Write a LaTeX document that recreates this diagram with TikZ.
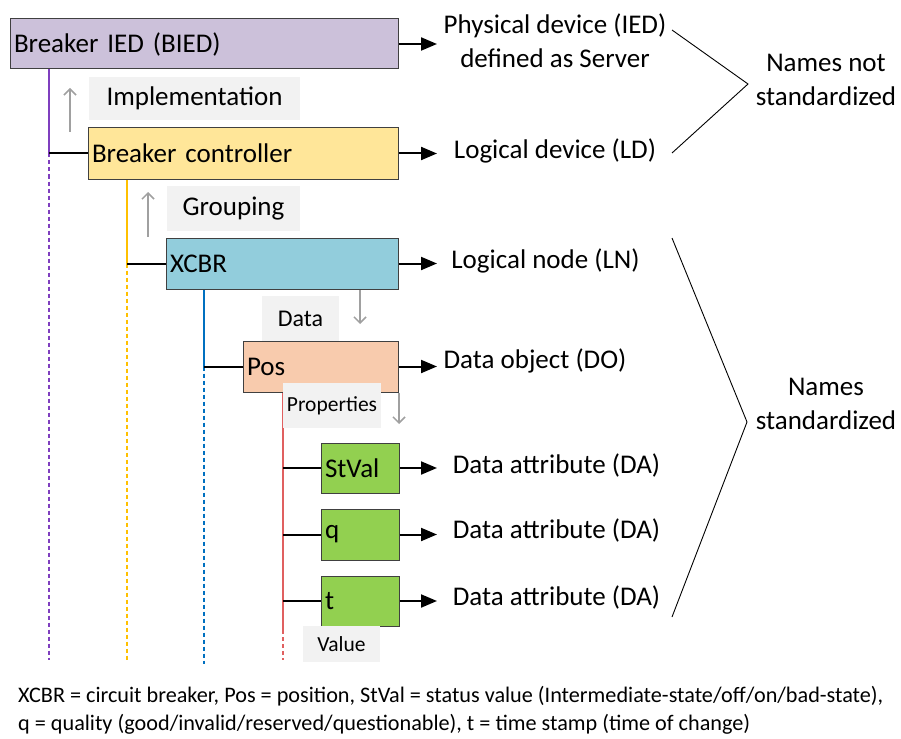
\documentclass[tikz,border=0pt]{standalone}
\usepackage{fontspec}
\setmainfont{Carlito}
\usetikzlibrary{arrows.meta}

\definecolor{biedfill}{HTML}{CCC1DA}
\definecolor{ctrlfill}{HTML}{FFE699}
\definecolor{xcbrfill}{HTML}{92CDDC}
\definecolor{posfill}{HTML}{F8CBAD}
\definecolor{dafill}{HTML}{92D050}
\definecolor{tagfill}{HTML}{F2F2F2}
\definecolor{tagarrow}{HTML}{A0A0A0}
\definecolor{lnpurple}{HTML}{7F3FBF}
\definecolor{lngold}{HTML}{FFC000}
\definecolor{lnblue}{HTML}{0070C0}
\definecolor{lnred}{HTML}{E06060}

\tikzset{
  bx/.style={draw=black!75, line width=1pt, inner xsep=4pt, inner ysep=0pt,
    align=left, font=\fontsize{27}{30}\selectfont, anchor=center},
  tag/.style={fill=tagfill, inner sep=0pt, font=\fontsize{27}{30}\selectfont},
  midtag/.style={fill=tagfill, inner sep=0pt, font=\fontsize{24}{28}\selectfont},
  smalltag/.style={fill=tagfill, inner sep=0pt, font=\fontsize{21.5}{24}\selectfont},
  lbl/.style={inner sep=0pt, align=center, font=\fontsize{27}{34}\selectfont},
  toright/.style={line width=2pt, -{Triangle[length=16pt,width=13pt]}},
  link/.style={line width=2pt, black},
  hint/.style={tagarrow, line width=1.5pt, -{Straight Barb[length=6pt,width=12pt]}},
  tree/.style={line width=2.5pt},
  treedots/.style={line width=2.5pt, dash pattern=on 4pt off 3pt},
  brace/.style={line width=0.9pt, black}
}

\begin{document}
\begin{tikzpicture}[x=1pt,y=-1pt]
\useasboundingbox (0,0) rectangle (901,738);

% hierarchy trunks
\draw[tree, lnpurple] (49,69) -- (49,153.5);
\draw[treedots, lnpurple] (49,153.5) -- (49,660);
\draw[tree, lngold] (127,179) -- (127,263.5);
\draw[treedots, lngold] (127,263.5) -- (127,662);
\draw[tree, lnblue] (204,289) -- (204,366.5);
\draw[treedots, lnblue] (204,366.5) -- (204,664);
\draw[tree, lnred] (283,392) -- (283,630);
\draw[treedots, lnred] (283,630) -- (283,660);

% boxes
\node[bx, fill=biedfill, text width=380pt, minimum height=50pt] (bied) at (204,44) {Breaker IED (BIED)};
\node[bx, fill=ctrlfill, text width=302pt, minimum height=51pt] (ctrl) at (243,153.5) {Breaker controller};
\node[bx, fill=xcbrfill, text width=224pt, minimum height=51pt] (xcbr) at (282,263.5) {XCBR};
\node[bx, fill=posfill, text width=147pt, minimum height=51pt] (pos) at (320.5,366.5) {Pos};
\node[bx, fill=dafill, text width=70pt, minimum height=50pt] (stval) at (360,468) {StVal};
\node[bx, fill=dafill, text width=70pt, minimum height=51pt] (q) at (360,534.5) {q};
\node[bx, fill=dafill, text width=70pt, minimum height=50pt] (t) at (360,601) {t};

% branch links from the trunks
\coordinate (j1) at (49,0);
\coordinate (j2) at (127,0);
\coordinate (j3) at (204,0);
\coordinate (j4) at (283,0);
\draw[link] (j1 |- ctrl.west) -- (ctrl.west);
\draw[link] (j2 |- xcbr.west) -- (xcbr.west);
\draw[link] (j3 |- pos.west) -- (pos.west);
\draw[link] (j4 |- stval.west) -- (stval.west);
\draw[link] (j4 |- q.west) -- (q.west);
\draw[link] (j4 |- t.west) -- (t.west);

% relation tags
\node[tag, minimum width=211pt, minimum height=43pt] (impl) at (194.5,98.5) {Implementation};
\node[tag, minimum width=133pt, minimum height=45pt] (grp) at (233.5,208.5) {Grouping};
\node[midtag, minimum width=77pt, minimum height=45pt] (data) at (300.5,318.5) {Data};
\node[smalltag, minimum width=98pt, minimum height=45pt] (props) at (332,405.5) {Properties};
\node[smalltag, minimum width=77pt, minimum height=36pt] (val) at (341.5,644) {Value};

\coordinate (u1a) at (70,132); \coordinate (u1b) at (70,88);
\coordinate (u2a) at (148,237); \coordinate (u2b) at (148,192);
\coordinate (d1a) at (360,290); \coordinate (d1b) at (360,324);
\coordinate (d2a) at (399,393); \coordinate (d2b) at (399,424);
\draw[hint] (u1a) -- (u1b);
\draw[hint] (u2a) -- (u2b);
\draw[hint] (d1a) -- (d1b);
\draw[hint] (d2a) -- (d2b);

% descriptions
\node[lbl] (phys) at (555,41) {Physical device (IED)\\defined as Server};
\node[lbl] (ld) at (555,151) {Logical device (LD)};
\node[lbl] (ln) at (545.5,261) {Logical node (LN)};
\node[lbl] (dobj) at (535,361) {Data object (DO)};
\node[lbl] (da1) at (556.5,465) {Data attribute (DA)};
\node[lbl] (da2) at (556.5,530) {Data attribute (DA)};
\node[lbl] (da3) at (556.5,597) {Data attribute (DA)};

\coordinate (e1) at (437,44);
\coordinate (e2) at (437,153.5);
\coordinate (e3) at (437,263.5);
\coordinate (e4) at (437,366.5);
\coordinate (e5) at (437,468);
\coordinate (e6) at (437,534.5);
\coordinate (e7) at (437,601);
\draw[toright] (bied.east) -- (e1);
\draw[toright] (ctrl.east) -- (e2);
\draw[toright] (xcbr.east) -- (e3);
\draw[toright] (pos.east) -- (e4);
\draw[toright] (stval.east) -- (e5);
\draw[toright] (q.east) -- (e6);
\draw[toright] (t.east) -- (e7);

% groupings
\node[lbl] (notstd) at (826,80) {Names not\\standardized};
\node[lbl] (std) at (826,404) {Names\\standardized};
\coordinate (b1) at (672,30); \coordinate (b2) at (748,84); \coordinate (b3) at (672,153);
\coordinate (c1) at (672,238); \coordinate (c2) at (747,422); \coordinate (c3) at (672,617);
\draw[brace] (b1) -- (b2) -- (b3);
\draw[brace] (c1) -- (c2) -- (c3);

% legend (base anchor sits on the last line)
\node[anchor=base west, inner sep=0pt, align=left, font=\fontsize{22.2}{28}\selectfont] (legend) at (18,730)
  {XCBR = circuit breaker, Pos = position, StVal = status value (Intermediate-state/off/on/bad-state),\\
   q = quality (good/invalid/reserved/questionable), t = time stamp (time of change)};
\end{tikzpicture}
\end{document}
